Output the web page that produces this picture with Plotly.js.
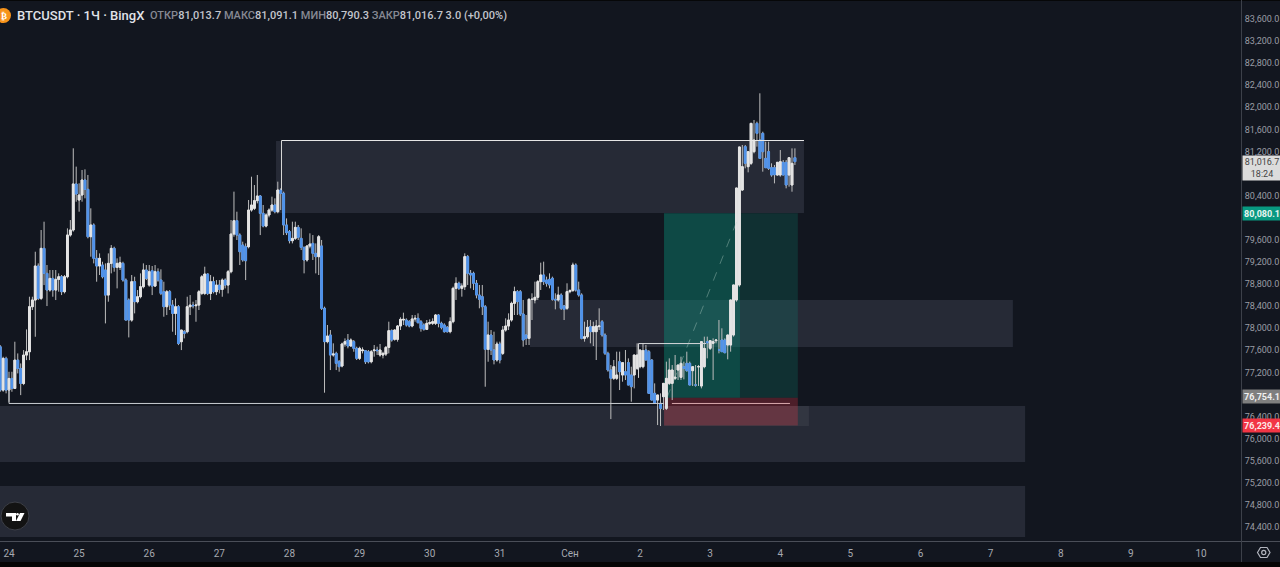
<!DOCTYPE html>
<html><head><meta charset="utf-8">
<script src="https://cdn.plot.ly/plotly-3.0.1.min.js"></script>
<style>html,body{margin:0;padding:0;background:#12161f;overflow:hidden}#c{width:1280px;height:567px}</style>
</head><body><div id="c"></div>
<script>
// Hourly candles, first candle three hours before midnight on the 24th
const firstHour = -3;
const opens = [77664,76879,77453,76879,77090,76909,77422,77271,76999,77513,77573,78389,78510,79126,78540,79446,78993,78691,78902,78691,78884,78932,78661,78932,79687,79778,80612,80322,80412,80684,80515,79657,79869,79265,79126,79144,79054,78600,79174,79446,79102,79102,79174,78872,78510,78147,78842,78480,78570,78751,79054,78781,79041,78763,79023,78872,78661,78389,78661,78419,78268,78389,77755,77936,77936,78389,78419,78407,78419,78630,78630,78981,78630,78842,78661,78781,78703,78872,78781,79023,79705,79947,79687,79506,79476,79476,80140,80171,80310,80394,80080,79850,80050,80140,80231,80110,80503,80442,79869,79748,79585,79627,79826,79627,79464,79235,79488,79536,79355,79295,79489,78360,77756,77877,77514,77544,77393,77315,77714,77786,77677,77756,77635,77454,77593,77593,77574,77393,77593,77605,77514,77514,77532,77653,77955,77798,77798,78040,78148,78148,78118,78040,78167,78179,78118,78058,77979,78088,78088,78088,78239,78088,78058,78016,77937,78118,78722,78813,78722,78752,79296,78994,78994,78813,78601,78571,78390,77617,77877,77605,77424,77714,77544,77967,78040,78148,78450,78662,78662,78257,77877,77816,78523,78511,78559,78843,78964,78873,78885,78904,78523,78511,78601,78402,78360,78662,78680,79145,78692,78601,77816,77846,78028,77937,77937,78028,78118,77877,77544,77243,77092,77092,77394,77152,77212,77376,77152,77152,77273,77303,77303,77605,77575,77424,76820,76699,76639,76760,76548,77001,77001,77092,77243,77110,77303,77363,77363,77231,76971,77303,76953,77303,77756,77635,77726,77774,77605,77786,77786,77696,77696,77877,78511,78783,80503,81288,80925,80986,81197,81710,81408,81529,81076,81197,80907,80907,80774,80774,81004,81004,80774,80593,81088,80986];
const closes = [76879,77453,76879,77090,76909,77422,77271,76999,77513,77573,78389,78510,79126,78540,79446,78993,78691,78902,78691,78884,78932,78661,78932,79687,79778,80612,80430,80412,80684,80515,79657,79869,79265,79126,79265,78932,78600,79174,79446,79102,79174,79186,78872,78147,78147,78842,78480,78570,78751,79054,78902,79023,78763,79023,78872,78630,78389,78661,78419,78268,78389,77724,77966,77906,78389,78419,78407,78419,78661,78932,78981,78630,78842,78661,78781,78703,78872,78781,79023,79705,79947,79687,79385,79235,79222,80140,80231,80310,80394,80080,79850,80050,80140,80231,80110,80503,80442,79869,79730,79585,79627,79826,79645,79464,79235,79488,79524,79355,79295,79657,78360,77756,77858,77514,77532,77363,77303,77714,77756,77677,77786,77635,77454,77635,77605,77393,77393,77574,77605,77593,77605,77544,77653,77955,77786,77967,78040,78160,78160,78058,78040,78167,78179,78100,77997,77979,78088,78100,78118,78239,78088,78016,77937,77937,78118,78722,78813,78722,78764,79296,78994,78964,78813,78601,78523,78390,77617,77877,77605,77424,77714,77424,77967,78040,78148,78450,78662,78481,78257,77786,77816,78523,78523,78559,78843,78964,78843,78813,78783,78523,78511,78601,78360,78342,78662,78680,79145,78692,78601,77816,77846,78016,77937,78028,78040,78040,77877,77544,77242,77092,77303,77152,77212,77376,77152,76971,76941,77514,77514,77605,77593,77424,76820,76699,76639,76790,76548,77001,77092,77243,77243,77110,77333,77363,77273,77231,76971,77303,76971,77303,77756,77635,77738,77774,77756,77786,77605,77575,77557,77877,78511,78783,80539,81282,80925,80986,81197,81710,81408,81529,81076,81197,80907,80895,80774,80780,81004,81016,80774,80593,81088,80986,81017];
const highs = [77694,77483,77483,77211,77211,77755,77543,77362,77604,77978,78570,78570,79385,79174,79778,79929,79144,79054,79054,79054,78993,78963,78963,79808,79959,81258,80926,80624,80865,80877,80775,80171,79899,79416,79355,79204,79174,79355,79506,79476,79265,79295,79204,78902,78540,78963,78932,78691,78993,79174,79144,79144,79126,79144,79084,79066,78842,78691,78691,78510,78540,78419,77966,77966,78570,78600,78480,78510,78691,78963,79114,78993,78963,78932,78872,78872,78902,78902,79054,79959,80473,80110,79718,79567,79536,80322,80744,80593,80775,80412,80231,80080,80171,80382,80352,80654,80533,80473,79989,79778,79929,79929,79869,79808,79476,79506,79718,79687,79536,79687,79598,78390,78058,77967,77726,77574,77424,77738,77816,77895,77816,77786,77665,77665,77653,77605,77605,77605,77695,77665,77714,77574,77677,78118,77979,77979,78058,78197,78281,78179,78148,78239,78239,78269,78148,78088,78148,78160,78179,78257,78257,78118,78088,78040,78197,78752,78922,78843,78813,79356,79326,79054,79024,78873,78783,78783,78420,78118,77967,77937,77756,77756,78040,78179,78269,78481,78752,78692,78692,78511,78239,78541,78632,78843,78873,79187,79205,78934,78994,78934,78632,78752,78632,78420,78813,78704,79187,79175,78843,78632,78118,78148,78148,78118,78148,78360,78148,77907,77574,77333,77424,77575,77575,77333,77605,77454,77303,77303,77726,77605,77726,77696,77605,77436,77001,76760,76820,76790,77394,77454,77333,77515,77303,77484,77394,77575,77394,77255,77333,77333,77484,77847,77847,77786,77816,77798,78149,77998,77816,77726,77955,78783,78900,80594,81318,81318,81106,81257,81771,81741,82254,81559,81378,81378,80986,80955,80865,81227,81046,81046,80955,81257,81257,81091];
const lows = [76849,76849,76820,76667,76849,77060,77181,76788,76969,77422,77422,78329,77845,78510,78510,78781,78401,78661,78570,78510,78661,78600,78630,78902,79657,79748,80291,80110,80291,80352,79627,79295,79174,78842,78963,78902,78087,78480,78993,79023,78721,79054,78842,78147,77833,78117,78268,78450,78540,78721,78872,78751,78600,78751,78842,78600,78208,78238,78329,77936,77876,77694,77604,77815,77906,78238,78359,78117,78329,78600,78600,78600,78510,78630,78600,78630,78570,78721,78630,78993,79657,79597,79144,79204,78872,79446,80110,80140,80261,79687,79826,79826,80008,80110,80080,80080,80140,79687,79687,79536,79536,79597,79597,79416,78993,79204,79446,79235,78993,78963,78330,76832,77726,77242,77484,77242,77212,77291,77665,77635,77665,77574,77424,77424,77544,77351,77363,77363,77484,77514,77484,77454,77496,77544,77756,77774,77756,77967,78058,78028,78016,78016,78118,78088,77937,77955,77967,78058,78058,78058,78016,77979,77919,77919,77907,78088,78511,78692,78571,78692,78783,78722,78692,78541,78360,78239,76940,77393,77514,77345,77393,77363,77514,77937,77967,78118,78239,78239,78221,77665,77695,77695,78148,78450,78511,78692,78783,78752,78722,78499,78342,78481,78330,78148,78330,78632,78662,78662,78571,77798,77756,77816,77726,77677,77424,77967,77846,77514,77212,76354,77062,77062,76880,77031,77062,77122,76669,76910,77243,77273,77273,77454,77394,76699,76669,76246,76228,76518,76518,76971,76699,77062,77062,77062,77074,77212,77182,76953,76941,76953,76910,77273,77454,77605,77062,77726,77545,77575,77545,77436,77575,77847,78480,78750,80486,80895,80823,80955,81167,81288,81288,80835,81046,80865,80744,80623,80762,80744,80804,80533,80563,80472,80955,80790];
const hours = opens.map((_, i) => firstHour + i);

const dayTicks = [0,24,48,72,96,120,144,168,192,216,240,264,288,312,336,360,384,408];
const dayLabels = ['24','25','26','27','28','29','30','31','Сен','2','3','4','5','6','7','8','9','10'];
// 76,800, 80,000 and 80,800 sit under the price tags in the reference, so they are not listed
const priceTicks = [74400,74800,75200,75600,76000,76400,77200,77600,78000,78400,78800,79200,79600,80400,81200,81600,82000,82400,82800,83200,83600];
const priceLabels = priceTicks.map(p => p.toLocaleString('en-US',{minimumFractionDigits:1}));

const W = 1241, H = 541;
const xp = x => x / W, yp = y => 1 - y / H;
const pathOf = pts => 'M' + pts.map(p => xp(p[0]) + ',' + yp(p[1])).join('L') + 'Z';
const zone = (x0,x1,y0,y1,fill) => ({type:'rect',layer:'below',xref:'x',yref:'y',x0,x1,y0,y1,fillcolor:fill,line:{width:0}});
const seg = (x0,y0,x1,y1,color,width,dash) => ({type:'line',xref:'x',yref:'y',x0,y0,x1,y1,line:{color,width:width||1,dash:dash||'solid'}});
const paperRect = (x0,y0,x1,y1,fill) => ({type:'rect',xref:'paper',yref:'paper',x0:xp(x0),x1:xp(x1),y0:yp(y0),y1:yp(y1),fillcolor:fill,line:{width:0}});

const zoneFill = 'rgba(205,220,255,0.105)';
const shapes = [
  zone(91.4,272.1,80087,81390,zoneFill),
  zone(178.3,343.6,77660,78511,zoneFill),
  zone(-10,347.8,75577,76591,zoneFill),
  zone(-10,347.8,74219,75142,zoneFill),
  zone(224.2,273.8,76230,76591,'rgba(255,255,255,0.06)'),
  zone(224.2,270,76740,80080,'rgba(8,153,129,0.2)'),
  zone(224.2,250.2,76740,80080,'rgba(8,153,129,0.24)'),
  zone(224.2,270,76240,76740,'rgba(242,54,69,0.26)'),
  seg(0,76637,224.2,76637,'#c9ccd1',1),
  seg(0,76637,0,76900,'#c9ccd1',1),
  seg(226.9,76637,267.3,76637,'#d9a9ad',1),
  seg(93.27,81399.5,272.1,81399.5,'#e6e6e6',1),
  seg(93.27,81399.5,93.27,80500,'#d6d6d6',1),
  seg(215.47,77722,238.6,77722,'#d6d8da',1),
  seg(215.47,77722,215.47,77100,'#d6d8da',1),
  seg(225.2,76740,250.2,80080,'rgba(190,215,205,0.38)',1,'dash'),
  // frame
  paperRect(0,562,1280,567,'#050505'),
  paperRect(0,0,1280,1,'#060708'),
  {type:'line',xref:'paper',yref:'paper',x0:xp(0),x1:xp(1280),y0:yp(541.5),y1:yp(541.5),line:{color:'#4a4e58',width:1}},
  {type:'line',xref:'paper',yref:'paper',x0:xp(1241.5),x1:xp(1241.5),y0:yp(0),y1:yp(562),line:{color:'#3c4049',width:1}},
  // coin
  {type:'circle',xref:'paper',yref:'paper',x0:xp(-4),x1:xp(11),y0:yp(8),y1:yp(23),fillcolor:'#f7931a',line:{width:0}},
  // TradingView badge
  {type:'circle',xref:'paper',yref:'paper',x0:xp(1),x1:xp(29),y0:yp(502),y1:yp(530),fillcolor:'#131313',line:{color:'#3d4048',width:1}},
  {type:'path',xref:'paper',yref:'paper',path:pathOf([[6,513],[16,513],[16,521],[12,521],[12,516.5],[6,516.5]]),fillcolor:'#ffffff',line:{width:0}},
  {type:'circle',xref:'paper',yref:'paper',x0:xp(16.2),x1:xp(18.8),y0:yp(513),y1:yp(515.6),fillcolor:'#ffffff',line:{width:0}},
  {type:'path',xref:'paper',yref:'paper',path:pathOf([[20,513],[24.5,513],[20.5,521],[16,521]]),fillcolor:'#ffffff',line:{width:0}},
  // settings icon
  {type:'path',xref:'paper',yref:'paper',path:pathOf([[1257.5,552.5],[1260.5,547.5],[1267,547.5],[1270,552.5],[1267,557.5],[1260.5,557.5]]),fillcolor:'rgba(0,0,0,0)',line:{color:'#b2b5be',width:1.2}},
  {type:'circle',xref:'paper',yref:'paper',x0:xp(1261.7),x1:xp(1265.8),y0:yp(550.4),y1:yp(554.6),fillcolor:'rgba(0,0,0,0)',line:{color:'#b2b5be',width:1.2}}
];

const font = 'Roboto, sans-serif';
const tag = (price,text,bg,color,h) => ({xref:'paper',yref:'y',x:1,y:price,xanchor:'left',yanchor:'middle',xshift:1,text,showarrow:false,
  bgcolor:bg,width:38,height:h||13,borderpad:0,align:'center',font:{family:font,size:9,color:color}});
const annotations = [
  // The box of the last price sits below its level, as in the reference
  tag(80902,'81,016.7<br>18:24','#dcdcdc','#444',24),
  tag(80080.1,'<b>80,080.1</b>','#089981','#e8f5f1'),
  tag(76754.1,'<b>76,754.1</b>','#7f7f7f','#f0f0f0'),
  tag(76239.4,'<b>76,239.4</b>','#f23645','#fde8e8'),
  {xref:'paper',yref:'paper',x:xp(15),y:yp(15.5),xanchor:'left',yanchor:'middle',showarrow:false,text:'BTCUSDT · 1Ч · BingX',font:{family:font,size:13,weight:500,color:'#e0e2e8'}},
  {xref:'paper',yref:'paper',x:xp(148),y:yp(15.5),xanchor:'left',yanchor:'middle',showarrow:false,
    text:'<span style="color:#868993">ОТКР</span>81,013.7 <span style="color:#868993">МАКС</span>81,091.1 <span style="color:#868993">МИН</span>80,790.3 <span style="color:#868993">ЗАКР</span>81,016.7 3.0 (+0,00%)',
    font:{family:font,size:11,weight:500,color:'#c2c5cc'}},
  {xref:'paper',yref:'paper',x:xp(3.5),y:yp(15.5),xanchor:'center',yanchor:'middle',showarrow:false,text:'<b>₿</b>',font:{family:'DejaVu Sans',size:9,color:'#fff'}}
];

const bodyHigh = opens.map((o,i) => Math.max(o,closes[i]));
const bodyLow = opens.map((o,i) => Math.min(o,closes[i]));
const white = '#e4e4e4', blue = '#4f92ea', wick = '#bdbdbd';
const traces = [
  {type:'candlestick',x:hours,open:opens,high:highs,low:lows,close:closes,whiskerwidth:0,hoverinfo:'skip',showlegend:false,
    increasing:{line:{color:wick,width:1},fillcolor:wick},decreasing:{line:{color:wick,width:1},fillcolor:wick}},
  {type:'candlestick',x:hours,open:opens,high:bodyHigh,low:bodyLow,close:closes,whiskerwidth:0,hoverinfo:'skip',showlegend:false,
    increasing:{line:{color:white,width:1},fillcolor:white},decreasing:{line:{color:blue,width:1},fillcolor:blue}}
];
const layout = {
  width:1280,height:567,margin:{l:0,r:39,t:0,b:26,pad:0},
  paper_bgcolor:'#12161f',plot_bgcolor:'#12161f',showlegend:false,boxmode:'overlay',boxgap:0.1,
  xaxis:{type:'linear',range:[(0-9)/2.9216,(1241-9)/2.9216],rangeslider:{visible:false},showgrid:false,zeroline:false,showline:false,
    tickmode:'array',tickvals:dayTicks,ticktext:dayLabels,ticks:'outside',ticklen:3,tickcolor:'rgba(0,0,0,0)',
    tickfont:{family:font,size:10,color:'#a6a9b0'}},
  yaxis:{side:'right',range:[74146,83944],showgrid:false,zeroline:false,showline:false,
    tickmode:'array',tickvals:priceTicks,ticktext:priceLabels,ticks:'outside',ticklen:1,tickcolor:'rgba(0,0,0,0)',
    tickfont:{family:font,size:9,color:'#9a9da5'}},
  shapes,annotations
};
Plotly.newPlot('c',traces,layout,{displayModeBar:false,staticPlot:true});
</script></body></html>
